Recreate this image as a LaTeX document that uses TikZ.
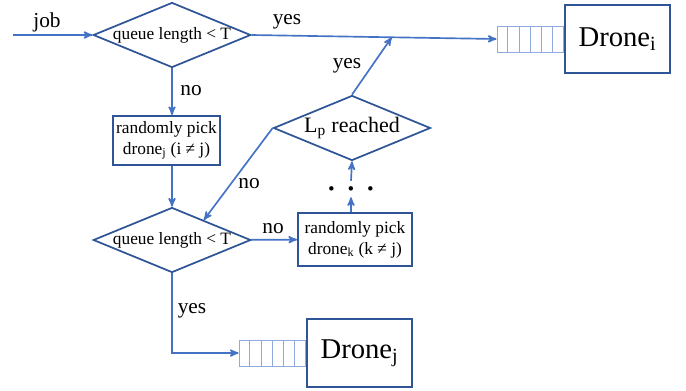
\documentclass[tikz,border=0pt]{standalone}
\usepackage{fontspec}
\setmainfont{Liberation Serif}
\usetikzlibrary{positioning,calc,shapes.geometric,arrows}
\definecolor{boxblue}{RGB}{47,85,151}
\definecolor{lineblue}{RGB}{68,114,196}
\definecolor{cellblue}{RGB}{143,170,220}
\tikzstyle{test} = [draw=boxblue, diamond, aspect=2.5, inner sep=0pt, minimum width=117.75pt, minimum height=48.75pt, line width=1.3pt, font=\fontsize{13}{15.5}\selectfont]
\tikzstyle{pick} = [draw=boxblue, rectangle, line width=1.5pt, align=center, inner sep=0pt, font=\fontsize{13}{15.5}\selectfont]
\tikzstyle{drone} = [draw=boxblue, rectangle, line width=1.5pt, minimum width=78.75pt, minimum height=51pt, font=\fontsize{21.5}{25}\selectfont]
\tikzstyle{queue} = [draw=cellblue, rectangle, line width=0.6pt, minimum width=50pt, minimum height=19.5pt, inner sep=0pt]
\tikzstyle{lbl} = [inner sep=0pt, font=\fontsize{16}{19}\selectfont]
\tikzstyle{to} = [->,>=stealth', line width=1.25pt, draw=lineblue]

\begin{document}
\begin{tikzpicture}[x=0.75pt, y=-0.75pt]
		\useasboundingbox (0,0) rectangle (686,390);
		% decisions
		\node (q1) [test] at (172,35) {queue length < T};
		\node (q2) [test] at (172,240) {queue length < T};
		\node (lp) [test, font=\fontsize{16.5}{19}\selectfont] at (352,128) {L\textsubscript{p} reached};
		% random picks
		\node (pj) [pick, minimum width=80.25pt, minimum height=36.75pt] at (166.5,140.5) {randomly pick\\drone\textsubscript{j} (i ≠ j)};
		\node (pk) [pick, minimum width=85.5pt, minimum height=39.75pt] at (355,239.5) {randomly pick\\drone\textsubscript{k} (k ≠ j)};
		\node (dots) [inner sep=0pt, minimum height=12pt, font=\footnotesize] at (351,189) {$\bullet\hspace{8.5pt}\bullet\hspace{8.5pt}\bullet$};
		% drones and their queues
		\node (di) [drone] at (617.5,39) {Drone\textsubscript{i}};
		\node (dj) [drone] at (359.5,353) {Drone\textsubscript{j}};
		\node (qi) [queue, left=0pt of di] {};
		\node (qj) [queue, left=0pt of dj] {};
		\foreach \k in {1,...,5} {
			\draw[cellblue, line width=0.6pt] ($(qi.south west)!\k/6!(qi.south east)$) -- ($(qi.north west)!\k/6!(qi.north east)$);
			\draw[cellblue, line width=0.6pt] ($(qj.south west)!\k/6!(qj.south east)$) -- ($(qj.north west)!\k/6!(qj.north east)$);
		}
		\coordinate (in) at (13,35);
		\coordinate (yesi) at ($(q1.east)!0.572!(qi.west)$);
		\draw[to] (in) -- (q1);
		\draw[to] (q1.east) -- (qi.west);
		\draw[to] (q1.south) -- (q1.south |- pj.north);
		\draw[to] (q1.south |- pj.south) -- (q2.north);
		\draw[to] (q2) -- (pk);
		\draw[to] (dots |- pk.north) -- (dots.south);
		\draw[to] (dots.north) -- (lp.south);
		\draw[to] (lp.west) -- ($(q2.north)!0.4!(q2.east)$);
		\draw[to] (lp.north) -- (yesi);
		\draw[to] (q2.south) |- (qj.west);
		% branch labels
		\node (job) [lbl] at (47,22) {job};
		\node (yes1) [lbl] at (287,22) {yes};
		\node (no1) [lbl] at (191,91) {no};
		\node (yes2) [lbl] at (347,66) {yes};
		\node (no2) [lbl] at (249,184) {no};
		\node (no3) [lbl] at (273,229) {no};
		\node (yes3) [lbl] at (192,311) {yes};
\end{tikzpicture}
\end{document}
